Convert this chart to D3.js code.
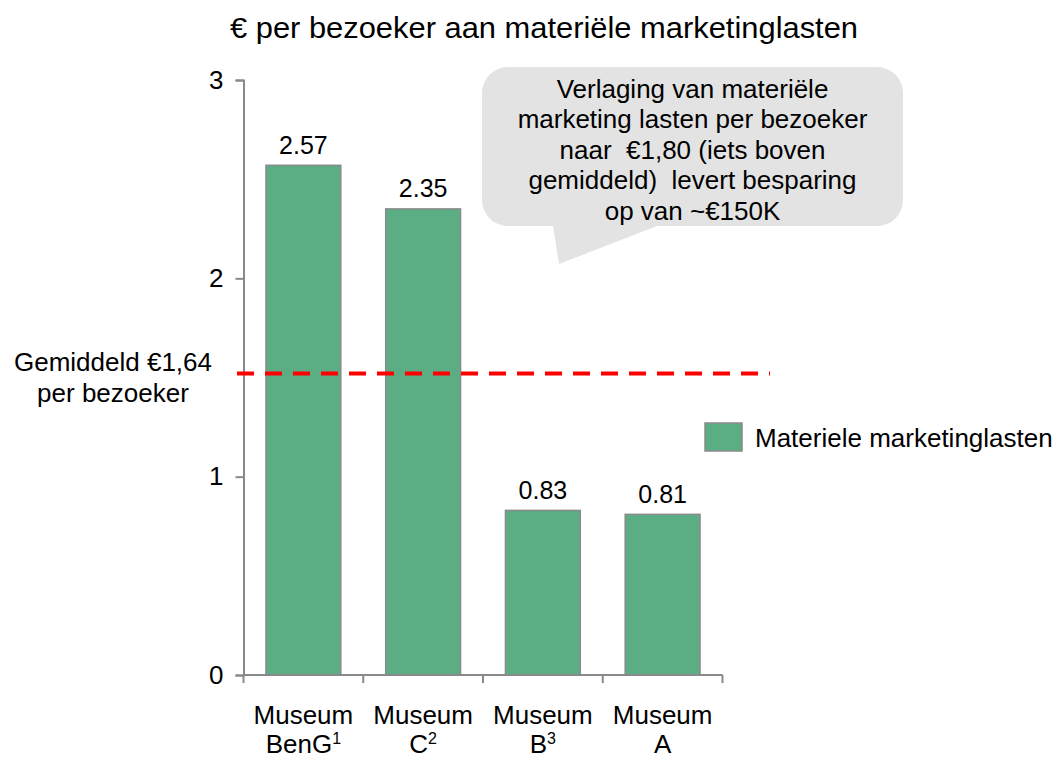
<!DOCTYPE html>
<html><head><meta charset="utf-8">
<script src="https://cdn.jsdelivr.net/npm/d3@7"></script>
<style>body{margin:0;background:#fff;} text{font-family:"Liberation Sans",Arial,sans-serif;fill:#000;white-space:pre;}</style>
</head><body>
<svg id="chart" width="1060" height="760"></svg>
<script>
const categories = ["Museum|BenG|1", "Museum|C|2", "Museum|B|3", "Museum|A|"];
const values = [2.57, 2.35, 0.83, 0.81];
const valueLabels = ["2.57", "2.35", "0.83", "0.81"];
const yTicks = [0, 1, 2, 3];
const averageLineValue = 1.52;
const averageLabel = ["Gemiddeld €1,64", "per bezoeker"];
const seriesName = "Materiele marketinglasten";
const title = "€ per bezoeker aan materiële marketinglasten";
const calloutLines = ["Verlaging van materiële", "marketing lasten per bezoeker", "naar  €1,80 (iets boven", "gemiddeld)  levert besparing", "op van ~€150K"];

const svg = d3.select("#chart");
const green = "#5BAE84", edge = "#8a8a8a", axisCol = "#898989";

const x = d3.scaleBand().domain(categories).range([243.5, 722.5]).paddingInner(0.375).paddingOuter(0.1875);
const y = d3.scaleLinear().domain([0, 3]).range([675, 80]);

// title
svg.append("text").attr("x", 544).attr("y", 38).attr("text-anchor", "middle")
  .attr("font-size", 29).attr("textLength", 628).attr("lengthAdjust", "spacingAndGlyphs").text(title);

// callout
const cx0 = 482, cx1 = 903, cy0 = 67, cy1 = 226, r = 26;
const p = d3.path();
p.moveTo(cx0 + r, cy0);
p.lineTo(cx1 - r, cy0); p.arcTo(cx1, cy0, cx1, cy0 + r, r);
p.lineTo(cx1, cy1 - r); p.arcTo(cx1, cy1, cx1 - r, cy1, r);
p.lineTo(657, cy1); p.lineTo(559, 264); p.lineTo(553, cy1);
p.lineTo(cx0 + r, cy1); p.arcTo(cx0, cy1, cx0, cy1 - r, r);
p.lineTo(cx0, cy0 + r); p.arcTo(cx0, cy0, cx0 + r, cy0, r);
p.closePath();
svg.append("path").attr("d", p.toString()).attr("fill", "#e3e3e3");
svg.append("g").selectAll("text").data(calloutLines).join("text")
  .attr("x", 692.5).attr("y", (d, i) => 98 + i * 30.4).attr("text-anchor", "middle")
  .attr("font-size", 26).text(d => d);

// bars
svg.append("g").selectAll("rect").data(values).join("rect")
  .attr("x", (d, i) => x(categories[i])).attr("width", x.bandwidth())
  .attr("y", d => y(d)).attr("height", d => y(0) - y(d))
  .attr("fill", green).attr("stroke", edge).attr("stroke-width", 1.5);

svg.append("g").selectAll("text").data(values).join("text")
  .attr("x", (d, i) => x(categories[i]) + x.bandwidth() / 2).attr("y", d => y(d) - 11.5)
  .attr("text-anchor", "middle").attr("font-size", 25).text((d, i) => valueLabels[i]);

// y axis
const yAxis = svg.append("g").attr("transform", "translate(243.5,0)")
  .call(d3.axisLeft(y).tickValues(yTicks).tickFormat(d3.format("d")).tickSize(8).tickPadding(12));
yAxis.selectAll("path,line").attr("stroke", axisCol).attr("stroke-width", 2);
yAxis.selectAll("text").attr("font-size", 26).attr("font-family", "Liberation Sans, Arial, sans-serif").attr("fill", "#000");

// x axis
const xAxis = svg.append("g").attr("transform", `translate(0,${y(0)})`)
  .call(d3.axisBottom(x).tickSize(0).tickFormat(""));
xAxis.select("path").attr("d", `M243.5,0H722.5`).attr("stroke", axisCol).attr("stroke-width", 2);
const step = x.step();
const bounds = categories.map((c, i) => x(categories[0]) - x.paddingOuter() * step + i * step).concat([722.5]);
xAxis.selectAll(".bt").data(bounds).join("line").attr("class", "bt")
  .attr("x1", d => d).attr("x2", d => d).attr("y1", 0).attr("y2", 8)
  .attr("stroke", axisCol).attr("stroke-width", 2);

const xg = svg.append("g").selectAll("g").data(categories).join("g")
  .attr("transform", d => `translate(${x(d) + x.bandwidth() / 2},0)`);
xg.append("text").attr("text-anchor", "middle").attr("font-size", 26).attr("y", 724).text(d => d.split("|")[0]);
const l2 = xg.append("text").attr("text-anchor", "middle").attr("font-size", 26).attr("y", 753);
l2.append("tspan").text(d => d.split("|")[1]);
l2.append("tspan").attr("font-size", 16).attr("dy", -9).text(d => d.split("|")[2]);

// average line
svg.append("line").attr("x1", 237).attr("x2", 770).attr("y1", y(averageLineValue)).attr("y2", y(averageLineValue))
  .attr("stroke", "#ff0000").attr("stroke-width", 4).attr("stroke-dasharray", "17,11");
svg.append("g").selectAll("text").data(averageLabel).join("text")
  .attr("x", 113).attr("y", (d, i) => 371 + i * 31).attr("text-anchor", "middle")
  .attr("font-size", 26).text(d => d);

// legend
svg.append("rect").attr("x", 705).attr("y", 423).attr("width", 37).attr("height", 28)
  .attr("fill", green).attr("stroke", edge).attr("stroke-width", 1.5);
svg.append("text").attr("x", 755).attr("y", 447).attr("font-size", 26).text(seriesName);
</script>
</body></html>
